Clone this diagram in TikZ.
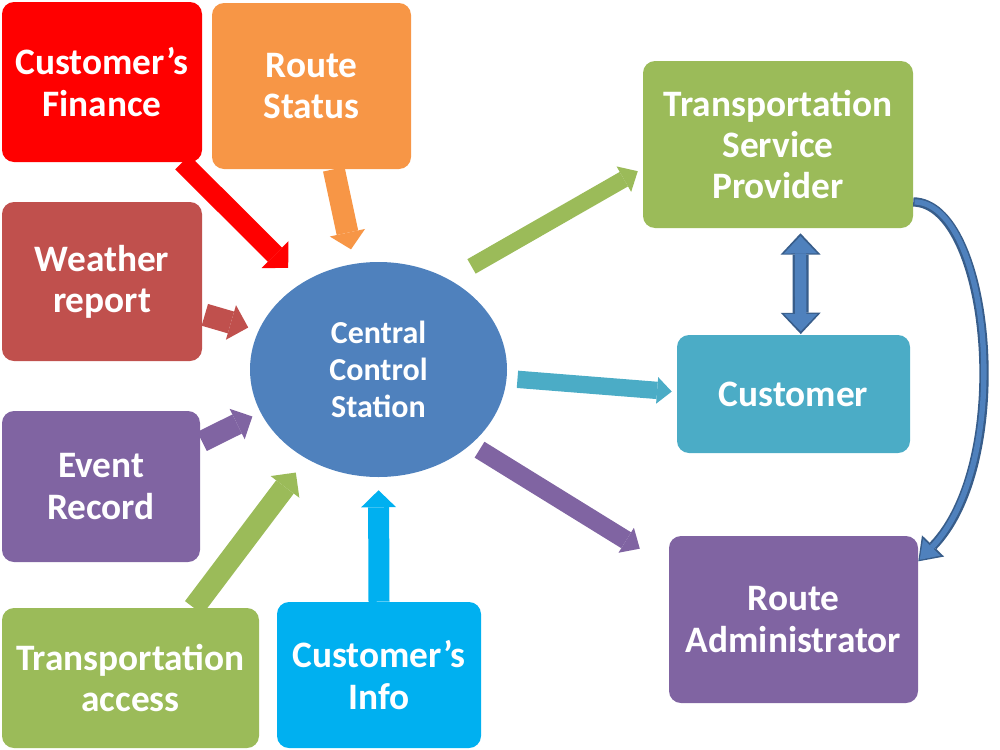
\documentclass[tikz,border=0pt]{standalone}
\usepackage{fontspec}
\setmainfont{Carlito}
\usetikzlibrary{arrows.meta,shapes.geometric,calc}
\definecolor{cRed}{HTML}{FF0000}
\definecolor{cOrange}{HTML}{F79646}
\definecolor{cBrick}{HTML}{C0504D}
\definecolor{cPurple}{HTML}{8064A2}
\definecolor{cGreen}{HTML}{9BBB59}
\definecolor{cCyan}{HTML}{00B0F0}
\definecolor{cTeal}{HTML}{4BACC6}
\definecolor{cBlue}{HTML}{4F81BD}
\definecolor{cDark}{HTML}{385D8A}
\tikzset{
  box/.style={rectangle, rounded corners=9pt, inner sep=0pt, align=center, text=white,
    font=\bfseries\fontsize{28}{31}\selectfont},
  hub/.style={ellipse, inner sep=0pt, align=center, text=white,
    font=\bfseries\fontsize{24}{28}\selectfont},
  conn/.style={line cap=butt},
}
\begin{document}
\begin{tikzpicture}[x=0.75pt,y=-0.75pt]
\useasboundingbox (0,0) rectangle (1000,750);

% boxes
\node[box, fill=cRed, minimum width=150pt, minimum height=120pt] (cf) at (102,82) {Customer’s\\Finance};
\node[box, fill=cOrange, minimum width=149.25pt, minimum height=124.5pt] (rs) at (311.5,86) {Route\\Status};
\node[box, fill=cBrick, minimum width=150pt, minimum height=119.25pt] (wr) at (102,281.5) {Weather\\report};
\node[box, fill=cPurple, minimum width=148.5pt, minimum height=113.25pt] (er) at (101,486.5) {Event\\Record};
\node[box, fill=cGreen, minimum width=192.75pt, minimum height=105pt] (ta) at (130.5,678) {Transportation\\access};
\node[box, fill=cCyan, minimum width=153pt, minimum height=109.5pt] (ci) at (379,675) {Customer’s\\Info};
\node[box, fill=cGreen, minimum width=202.5pt, minimum height=125.25pt] (tsp) at (778,144.5) {Transportation\\Service\\Provider};
\node[box, fill=cTeal, minimum width=174.75pt, minimum height=88.5pt] (cu) at (793.5,394) {Customer};
\node[box, fill=cPurple, minimum width=186.75pt, minimum height=125.25pt] (ra) at (793.5,619.5) {Route\\Administrator};
\node[hub, fill=cBlue, minimum width=192.75pt, minimum height=161.25pt] (ccs) at (378.5,369.5) {Central\\Control\\Station};

% inbound arrows
\draw[conn, line width=15pt, cRed, -{Triangle[length=14pt,width=28.5pt,line width=0pt]}, shorten >=15.4pt] (cf.-45) -- (ccs.131.7);
\draw[conn, line width=16.5pt, cOrange, -{Triangle[length=12.75pt,width=27pt,line width=0pt]}, shorten >=11pt] (rs.-75.5) -- (ccs.103.4);
\draw[conn, line width=17pt, cBrick, -{Triangle[length=13.5pt,width=27pt,line width=0pt]}, shorten <=2pt, shorten >=8pt] (wr.-18.5) -- (ccs.162.3);
\draw[conn, line width=16pt, cPurple, -{Triangle[length=12.75pt,width=25.5pt,line width=0pt]}, shorten <=1.5pt, shorten >=6.75pt] (er.24.7) -- (ccs.200.4);
\draw[conn, line width=16.5pt, cGreen, -{Triangle[length=13.5pt,width=27pt,line width=0pt]}, shorten >=13pt] (ta.48.5) -- (ccs.231.7);
\draw[conn, line width=15.75pt, cCyan, -{Triangle[length=12.75pt,width=26.25pt,line width=0pt]}, shorten >=9.75pt] (ci.north) -- (ccs.south);

% outbound arrows
\draw[conn, line width=12.5pt, cGreen, -{Triangle[length=12pt,width=22pt,line width=0pt]}, shorten <=19.5pt, shorten >=4.3pt] (ccs.52.85) -- (tsp.190.4);
\draw[conn, line width=13pt, cTeal, -{Triangle[length=11pt,width=20pt,line width=0pt]}, shorten <=8pt, shorten >=3.75pt] (ccs.-4.8) -- (cu.179.2);
\draw[conn, line width=14pt, cPurple, -{Triangle[length=12pt,width=22pt,line width=0pt]}, shorten <=7.5pt, shorten >=25.5pt] (ccs.-39.3) -- (ra.157.9);

% double arrow between provider and customer
\draw[conn, line width=12pt, cDark, {Triangle[length=16pt,width=30pt,line width=0pt]}-{Triangle[length=16pt,width=30pt,line width=0pt]}, shorten <=3.75pt, shorten >=0.5pt] (tsp.-75.2) -- (cu.83.7);
\draw[conn, line width=8.5pt, cBlue, {Triangle[length=13pt,width=25pt,line width=0pt]}-{Triangle[length=13pt,width=25pt,line width=0pt]}, shorten <=5.9pt, shorten >=2.6pt] (tsp.-75.2) -- (cu.83.7);

% curved arrow from provider to route administrator
\draw[conn, line width=7pt, cDark, -{Triangle[length=16pt,width=23pt,line width=0pt]}] (tsp.-23) .. controls ($(tsp.-23)+(77,1)$) and ($(ra.25)+(97,-101)$) .. (ra.25);
\draw[conn, line width=4pt, cBlue, -{Triangle[length=13pt,width=18pt,line width=0pt]}, shorten >=1.6pt, shorten <=1pt] (tsp.-23) .. controls ($(tsp.-23)+(77,1)$) and ($(ra.25)+(97,-101)$) .. (ra.25);
\end{tikzpicture}
\end{document}
